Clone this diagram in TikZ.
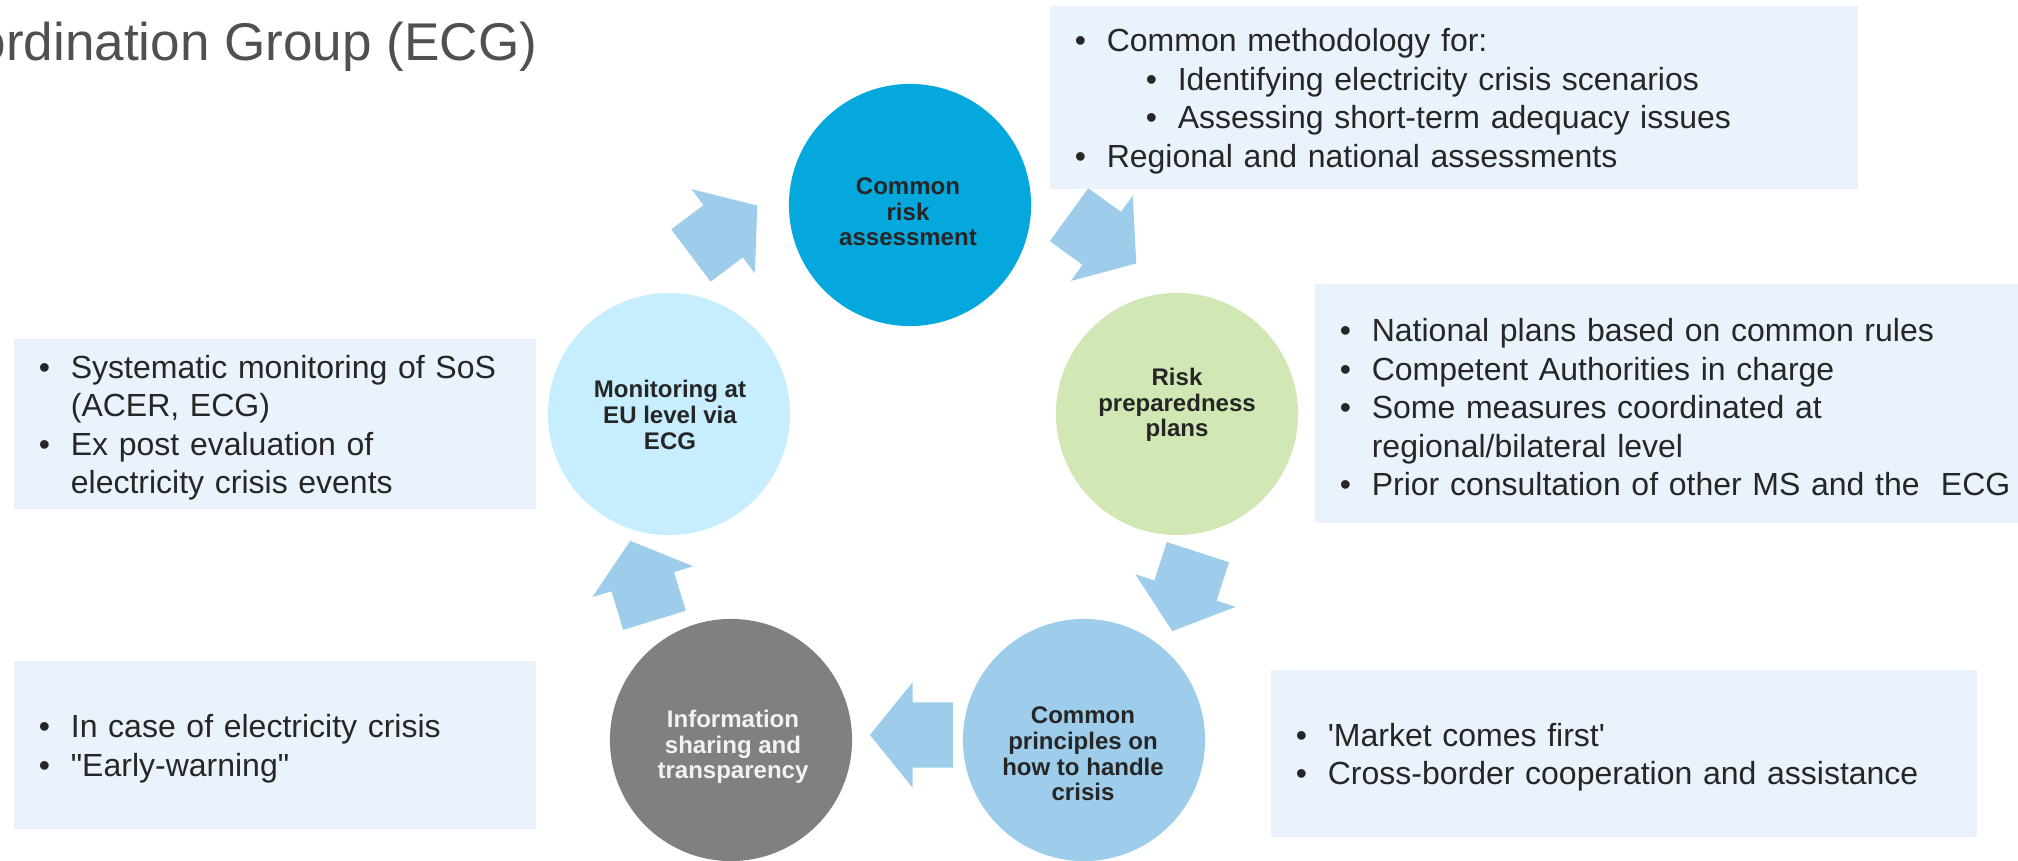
\documentclass[tikz,border=0pt]{standalone}
\usepackage{fontspec}
\setmainfont{Liberation Sans}[Ligatures=TeXOff]
\usepackage{xcolor}
\usetikzlibrary{shapes.arrows}

\definecolor{oscuro}{RGB}{38,38,38}
\definecolor{titulo}{RGB}{80,80,80}
\definecolor{fondo}{RGB}{234,243,251}
\definecolor{flecha}{RGB}{157,205,234}
\definecolor{riesgo}{RGB}{4,168,221}
\definecolor{planes}{RGB}{210,232,180}
\definecolor{crisis}{RGB}{157,205,234}
\definecolor{info}{RGB}{128,128,128}
\definecolor{monit}{RGB}{199,238,254}
\definecolor{claro}{RGB}{242,242,242}

\newcommand{\vin}{\rule{0pt}{0.31cm}\makebox[0.32cm][l]{\textbullet}}

\begin{document}
\begin{tikzpicture}[x=0.01cm, y=-0.01cm,
		every node/.style={text=oscuro},
		fase/.style={circle, minimum size=2.42cm, inner sep=0},
		rotulo/.style={font=\bfseries\fontsize{6.83pt}{7.31pt}\selectfont, align=center, inner sep=0},
		nota/.style={rectangle, fill=fondo, inner xsep=0.25cm, inner ysep=0, align=left, font=\fontsize{9.1pt}{10.95pt}\selectfont},
		paso/.style={single arrow, fill=flecha, inner xsep=0, inner ysep=0.32cm, minimum height=0.83cm, minimum width=1.04cm, single arrow head extend=0.2cm, single arrow tip angle=102, anchor=tip}
		]
		\useasboundingbox (0,0) rectangle (2018,861);
		
		% titulo
		\node[anchor=base east, inner sep=0, text=titulo, font=\fontsize{15.1pt}{18pt}\selectfont] (tit) at (538,61) {ordination Group (ECG)};
		
		% circulos
		\node[fase, fill=riesgo] (cra) at (910,205) {};
		\node[fase, fill=planes] (rpp) at (1177,414) {};
		\node[fase, fill=crisis] (cpc) at (1084,740) {};
		\node[fase, fill=info] (isht) at (731,740) {};
		\node[fase, fill=monit] (mon) at (669,414) {};
		
		% textos de los circulos
		\node[rotulo] (tcra) at (908,212) {Common\\risk\\assessment};
		\node[rotulo] (trpp) at (1177,405) {Risk\\preparedness\\plans};
		\node[rotulo] (tcpc) at (1083,754) {Common\\principles on\\how to handle\\crisis};
		\node[rotulo, text=claro] (tisht) at (733,747) {Information\\sharing and\\transparency};
		\node[rotulo] (tmon) at (670,415) {Monitoring at\\EU level via\\ECG};
		
		% flechas
		\node[paso, rotate=37] (a1) at (758,205) {};
		\node[paso, rotate=-36] (a2) at (1137,264) {};
		\node[paso, rotate=-108] (a3) at (1172,632) {};
		\node[paso, rotate=180] (a4) at (869,735) {};
		\node[paso, rotate=107] (a5) at (630,540) {};
		
		% cuadros de texto
		\node[nota, minimum height=1.83cm, text width=7.58cm] (metod) at (1454,97.5) {\vin Common methodology for:\\
			\hspace*{0.71cm}\vin Identifying electricity crisis scenarios\\
			\hspace*{0.71cm}\vin Assessing short-term adequacy issues\\
			\vin Regional and national assessments};
		\node[nota, minimum height=2.39cm, text width=6.8cm] (nacio) at (1680,403.5) {\vin National plans based on common rules\\
			\vin Competent Authorities in charge\\
			\vin Some measures coordinated at\\
			\hspace*{0.32cm}regional/bilateral level\\
			\vin Prior consultation of other MS and the\ \ ECG};
		\node[nota, minimum height=1.67cm, text width=6.56cm] (merc) at (1624,753.5) {\vin 'Market comes first'\\
			\vin Cross-border cooperation and assistance};
		\node[nota, minimum height=1.70cm, text width=4.72cm] (sist) at (275,424) {\vin Systematic monitoring of SoS\\
			\hspace*{0.32cm}(ACER, ECG)\\
			\vin Ex post evaluation of\\
			\hspace*{0.32cm}electricity crisis events};
		\node[nota, minimum height=1.68cm, text width=4.72cm] (aviso) at (275,745) {\vin In case of electricity crisis\\
			\vin "Early-warning"};
		
	\end{tikzpicture}
\end{document}
